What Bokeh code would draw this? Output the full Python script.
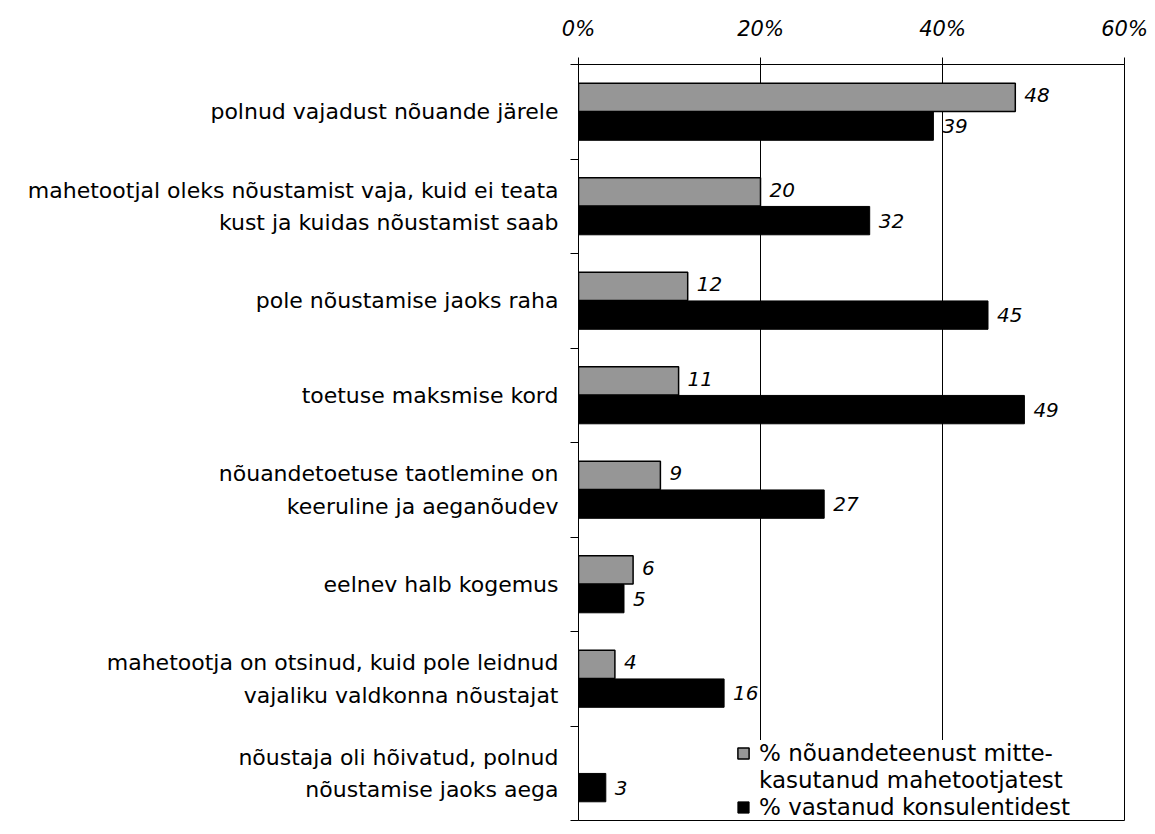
from bokeh.plotting import figure
from bokeh.models import (ColumnDataSource, Range1d, FixedTicker, Legend, LegendItem)
from bokeh.core.properties import value
from bokeh.embed import file_html
from bokeh.resources import INLINE

categories = [
    "polnud vajadust nõuande järele",
    "mahetootjal oleks nõustamist vaja, kuid ei teata\nkust ja kuidas nõustamist saab",
    "pole nõustamise jaoks raha",
    "toetuse maksmise kord",
    "nõuandetoetuse taotlemine on\nkeeruline ja aeganõudev",
    "eelnev halb kogemus",
    "mahetootja on otsinud, kuid pole leidnud\nvajaliku valdkonna nõustajat",
    "nõustaja oli hõivatud, polnud\nnõustamise jaoks aega",
]
producers = [48, 20, 12, 11, 9, 6, 4, None]   # % nõuandeteenust mitte-kasutanud mahetootjatest
consultants = [39, 32, 45, 49, 27, 5, 16, 3]  # % vastanud konsulentidest
x_ticks = [0, 20, 40, 60]
x_tick_labels = ["0%", "20%", "40%", "60%"]
series_names = ["% nõuandeteenust mitte-", "kasutanud mahetootjatest", "% vastanud konsulentidest"]

FONT = "DejaVu Sans"
n = len(categories)
centers = [n - i - 0.5 for i in range(n)]
boundaries = list(range(n + 1))
off = 0.152
bh = 0.3

gray_idx = [i for i, v in enumerate(producers) if v is not None]
src_gray = ColumnDataSource(dict(
    y=[centers[i] + off for i in gray_idx],
    v=[producers[i] for i in gray_idx],
    t=[str(producers[i]) for i in gray_idx],
))
src_black = ColumnDataSource(dict(
    y=[c - off for c in centers],
    v=consultants,
    t=[str(v) for v in consultants],
))

p = figure(width=1150, height=830, output_backend="svg", toolbar_location=None,
           x_range=Range1d(0, 60), y_range=Range1d(0, n),
           x_axis_location="above",
           min_border_left=578, min_border_right=26, min_border_top=64, min_border_bottom=10)
p.background_fill_color = "white"
p.border_fill_color = "white"
p.outline_line_color = "black"
p.outline_line_width = 1

# grid
p.ygrid.grid_line_color = None
p.xgrid.ticker = FixedTicker(ticks=x_ticks)
p.xgrid.grid_line_color = "black"
p.xgrid.grid_line_width = 1

# top axis
xa = p.xaxis[0]
xa.ticker = FixedTicker(ticks=x_ticks)
xa.major_label_overrides = {t: l for t, l in zip(x_ticks, x_tick_labels)}
xa.major_label_text_font = FONT
xa.major_label_text_font_style = "italic"
xa.major_label_text_font_size = "21px"
xa.major_label_text_color = "black"
xa.major_label_standoff = 17
xa.major_tick_out = 7
xa.major_tick_in = 0
xa.minor_tick_out = 0
xa.minor_tick_in = 0
xa.axis_line_color = "black"
xa.major_tick_line_color = "black"

# left axis: labels at category centres, ticks at category boundaries
ya = p.yaxis[0]
ya.ticker = FixedTicker(ticks=centers, minor_ticks=boundaries)
ya.major_label_overrides = {c: t for c, t in zip(centers, categories)}
ya.major_label_text_font = FONT
ya.major_label_text_font_size = "22px"
ya.major_label_text_line_height = 1.3
ya.major_label_text_color = "black"
ya.major_label_standoff = 12
ya.major_tick_out = 0
ya.major_tick_in = 0
ya.minor_tick_out = 8
ya.minor_tick_in = 0
ya.axis_line_color = "black"
ya.minor_tick_line_color = "black"

r_gray = p.hbar(y="y", right="v", left=0, height=bh, source=src_gray,
                fill_color="#969696", line_color="black", line_width=1.5)
r_black = p.hbar(y="y", right="v", left=0, height=bh, source=src_black,
                 fill_color="black", line_color="black", line_width=1)

p.text(x="v", y="y", text="t", source=src_gray, x_offset=9, y_offset=-2,
       text_font=value(FONT), text_font_style="italic", text_font_size="20px",
       text_align="left", text_baseline="middle", text_color="black")
p.text(x="v", y="y", text="t", source=src_black, x_offset=9,
       text_font=value(FONT), text_font_style="italic", text_font_size="20px",
       text_align="left", text_baseline="middle", text_color="black")

legend = Legend(items=[
    LegendItem(label=series_names[0], renderers=[r_gray]),
    LegendItem(label=series_names[1], renderers=[]),
    LegendItem(label=series_names[2], renderers=[r_black]),
], location=(158, 0))
legend.label_text_font = FONT
legend.label_text_font_size = "23px"
legend.label_text_color = "black"
legend.glyph_width = 14
legend.glyph_height = 14
legend.label_standoff = 9
legend.spacing = 1
legend.padding = 10
legend.margin = 0
legend.border_line_color = None
legend.background_fill_color = "white"
legend.background_fill_alpha = 1
p.add_layout(legend, "center")

open("out.html", "w").write(file_html(p, INLINE))
